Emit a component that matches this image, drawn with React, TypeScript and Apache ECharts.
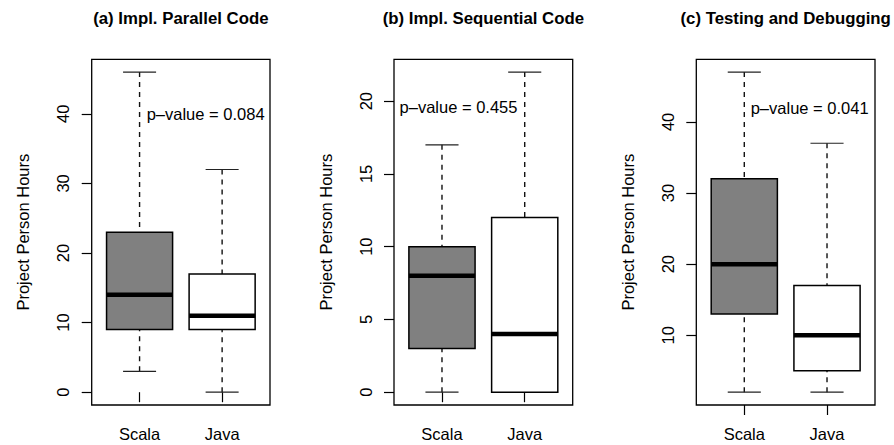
import React, { useEffect, useRef } from "react";
import * as echarts from "echarts";

// Groups on the x axis
const categories = ["Scala", "Java"];
const panelTitles = [
  "(a) Impl. Parallel Code",
  "(b) Impl. Sequential Code",
  "(c) Testing and Debugging",
];

// Box statistics: [min (lower whisker), Q1, median, Q3, max (upper whisker)]
const parallelScala = [3, 9, 14, 23, 46];
const parallelJava = [0, 9, 11, 17, 32];
const sequentialScala = [0, 3, 8, 10, 17];
const sequentialJava = [0, 0, 4, 12, 22];
const testingScala = [2, 13, 20, 32, 47];
const testingJava = [2, 5, 10, 17, 37];

// Y tick labels per panel
const yTicksParallel = [0, 10, 20, 30, 40];
const yTicksSequential = [0, 5, 10, 15, 20];
const yTicksTesting = [10, 20, 30, 40];

// p-value annotations: text and anchor (x position, y value)
const pValueTexts = ["p\u2013value = 0.084", "p\u2013value = 0.455", "p\u2013value = 0.041"];
const pValueX = [1.8, 1.2, 1.79];
const pValueY = [40, 19.6, 42];

const yAxisName = "Project Person Hours";

const panels = [
  { scala: parallelScala, java: parallelJava, ticks: yTicksParallel },
  { scala: sequentialScala, java: sequentialJava, ticks: yTicksSequential },
  { scala: testingScala, java: testingJava, ticks: yTicksTesting },
];

const FONT = "'Liberation Sans', Arial, Helvetica, sans-serif";
const FS = 16.5;

const gridBoxes = [
  { left: 91.7, top: 59.3, width: 178.3, height: 345.7 },
  { left: 394, top: 59.3, width: 178.7, height: 345.7 },
  { left: 696.3, top: 59.3, width: 178.7, height: 345.7 },
];

export default function App() {
  const ref = useRef<HTMLDivElement>(null);

  useEffect(() => {
    if (!ref.current) return;
    const chart = echarts.init(ref.current, undefined, { renderer: "svg" });

    const grids: any[] = [];
    const xAxes: any[] = [];
    const yAxes: any[] = [];
    const series: any[] = [];
    const graphics: any[] = [];

    panels.forEach((p, i) => {
      const g = gridBoxes[i];
      grids.push({
        left: g.left,
        top: g.top,
        width: g.width,
        height: g.height,
        show: true,
        borderColor: "#000",
        borderWidth: 1.3,
        backgroundColor: "transparent",
        containLabel: false,
      });
      xAxes.push({
        gridIndex: i,
        type: "value",
        min: 0.42,
        max: 2.58,
        axisLine: { show: false },
        splitLine: { show: false },
        axisTick: {
          show: true,
          length: 10,
          customValues: [1, 2],
          lineStyle: { color: "#000", width: 1.2 },
        },
        axisLabel: {
          show: true,
          customValues: [1, 2],
          margin: 20,
          formatter: (v: number) => categories[Math.round(v) - 1] ?? "",
          color: "#000",
          fontSize: FS,
          fontFamily: FONT,
        },
      });
      const all = [...p.scala, ...p.java];
      const lo = Math.min(...all);
      const hi = Math.max(...all);
      const pad = (hi - lo) * 0.04;
      yAxes.push({
        gridIndex: i,
        type: "value",
        min: lo - pad,
        max: hi + pad,
        axisLine: { show: false },
        splitLine: { show: false },
        axisTick: {
          show: true,
          length: 10,
          customValues: p.ticks,
          lineStyle: { color: "#000", width: 1.2 },
        },
        axisLabel: {
          show: true,
          customValues: p.ticks,
          rotate: 90,
          margin: 20,
          color: "#000",
          fontSize: FS,
          fontFamily: FONT,
        },
        name: yAxisName,
        nameLocation: "middle",
        nameGap: 60,
        nameTextStyle: { color: "#000", fontSize: FS, fontFamily: FONT },
      });

      const data = [
        [1, ...p.scala, 0],
        [2, ...p.java, 1],
      ];
      series.push({
        type: "custom",
        xAxisIndex: i,
        yAxisIndex: i,
        data,
        encode: { x: 0, y: [1, 2, 3, 4, 5] },
        renderItem: (params: any, api: any) => {
          const x = api.value(0);
          const mn = api.value(1);
          const q1 = api.value(2);
          const md = api.value(3);
          const q3 = api.value(4);
          const mx = api.value(5);
          const fillIdx = api.value(6);
          const c = (xx: number, yy: number) => api.coord([xx, yy]);
          const pMin = c(x, mn);
          const pQ1 = c(x, q1);
          const pMd = c(x, md);
          const pQ3 = c(x, q3);
          const pMax = c(x, mx);
          const halfBox = api.size([0.4, 0])[0];
          const halfCap = api.size([0.2, 0])[0];
          const dash = { stroke: "#111", lineWidth: 1.4, lineDash: [5, 5], fill: null };
          const cap = { stroke: "#222", lineWidth: 1.2, fill: null };
          return {
            type: "group",
            children: [
              {
                type: "line",
                shape: { x1: pMax[0], y1: pMax[1], x2: pQ3[0], y2: pQ3[1] },
                style: dash,
              },
              {
                type: "line",
                shape: { x1: pMin[0], y1: pMin[1], x2: pQ1[0], y2: pQ1[1] },
                style: dash,
              },
              {
                type: "line",
                shape: { x1: pMax[0] - halfCap, y1: pMax[1], x2: pMax[0] + halfCap, y2: pMax[1] },
                style: cap,
              },
              {
                type: "line",
                shape: { x1: pMin[0] - halfCap, y1: pMin[1], x2: pMin[0] + halfCap, y2: pMin[1] },
                style: cap,
              },
              {
                type: "rect",
                shape: {
                  x: pQ3[0] - halfBox,
                  y: pQ3[1],
                  width: halfBox * 2,
                  height: pQ1[1] - pQ3[1],
                },
                style: {
                  fill: fillIdx === 0 ? "#808080" : "#ffffff",
                  stroke: "#000",
                  lineWidth: 1.5,
                },
              },
              {
                type: "line",
                shape: { x1: pMd[0] - halfBox, y1: pMd[1], x2: pMd[0] + halfBox, y2: pMd[1] },
                style: { stroke: "#000", lineWidth: 4.5, fill: null },
              },
            ],
          };
        },
      });

      series.push({
        type: "custom",
        xAxisIndex: i,
        yAxisIndex: i,
        data: [[pValueX[i], pValueY[i]]],
        encode: { x: 0, y: 1 },
        z: 5,
        renderItem: (params: any, api: any) => {
          const pt = api.coord([api.value(0), api.value(1)]);
          return {
            type: "text",
            x: pt[0],
            y: pt[1],
            style: {
              text: pValueTexts[i],
              fill: "#000",
              font: `${FS}px ${FONT}`,
              align: "center",
              verticalAlign: "middle",
            },
          };
        },
      });

      graphics.push({
        type: "text",
        x: g.left + g.width / 2,
        y: 18.5,
        style: {
          text: panelTitles[i],
          fill: "#000",
          font: `bold 16.8px ${FONT}`,
          align: "center",
          verticalAlign: "middle",
          textAlign: "center",
          textVerticalAlign: "middle",
        },
      });
    });

    chart.setOption({
      animation: false,
      backgroundColor: "#ffffff",
      grid: grids,
      xAxis: xAxes,
      yAxis: yAxes,
      series,
      graphic: graphics,
    });

    return () => chart.dispose();
  }, []);

  return (
    <div
      ref={ref}
      style={{ position: "fixed", left: 0, top: 0, width: 894, height: 445 }}
    />
  );
}
